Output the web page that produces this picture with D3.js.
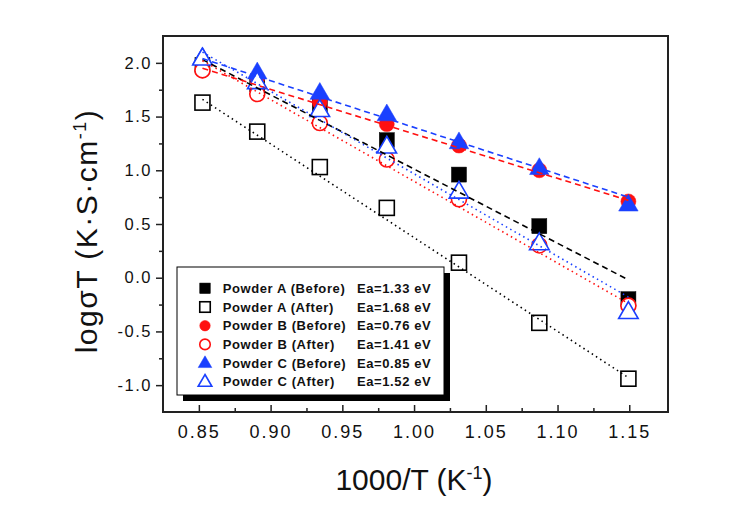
<!DOCTYPE html>
<html><head><meta charset="utf-8">
<script src="https://cdn.jsdelivr.net/npm/d3@7"></script>
<style>
body{margin:0;background:#fff}
text{font-family:"Liberation Sans",Arial,sans-serif;fill:#111}
</style></head>
<body><svg id="c" width="729" height="509"></svg>
<script>
// ---- data ----
const invT = [0.8525, 0.8907, 0.9343, 0.9810, 1.0313, 1.0873, 1.1494];
const aBefore = [1.98, 1.80, 1.60, 1.28, 0.96, 0.48, -0.20];
const aAfter  = [1.63, 1.36, 1.03, 0.65, 0.14, -0.42, -0.94];
const bBefore = [1.93, 1.86, 1.63, 1.43, 1.23, 1.00, 0.71];
const bAfter  = [1.93, 1.71, 1.44, 1.10, 0.73, 0.30, -0.26];
const cBefore = [2.05, 1.91, 1.72, 1.52, 1.26, 1.02, 0.68];
const cAfter  = [2.04, 1.82, 1.56, 1.22, 0.80, 0.32, -0.32];
// fitted lines: values at first and last 1000/T
const fitAB = [2.03, -0.02];
const fitAA = [1.66, -0.93];
const fitBB = [1.95, 0.72];
const fitBA = [2.02, -0.24];
const fitCB = [2.04, 0.75];
const fitCA = [2.10, -0.18];
const seriesNames = ["Powder A (Before)","Powder A (After)","Powder B (Before)","Powder B (After)","Powder C (Before)","Powder C (After)"];
const eaLabels = ["Ea=1.33 eV","Ea=1.68 eV","Ea=0.76 eV","Ea=1.41 eV","Ea=0.85 eV","Ea=1.52 eV"];
const xTicks = [0.85,0.90,0.95,1.00,1.05,1.10,1.15];
const xMinor = [0.875,0.925,0.975,1.025,1.075,1.125];
const yTicks = [-1.0,-0.5,0.0,0.5,1.0,1.5,2.0];
const yMinor = [-0.75,-0.25,0.25,0.75,1.25,1.75];

const RED="#ff1010", BLUE="#1a40ff", BLK="#000";
const series = [
  {vals:aBefore, fit:fitAB, shape:"square", color:BLK, filled:true,  dash:"6,4"},
  {vals:aAfter,  fit:fitAA, shape:"square", color:BLK, filled:false, dash:"1.5,3.5"},
  {vals:bBefore, fit:fitBB, shape:"circle", color:RED, filled:true,  dash:"6,4"},
  {vals:bAfter,  fit:fitBA, shape:"circle", color:RED, filled:false, dash:"1.5,3.5"},
  {vals:cBefore, fit:fitCB, shape:"triangle", color:BLUE, filled:true, dash:"6,4"},
  {vals:cAfter,  fit:fitCA, shape:"triangle", color:BLUE, filled:false, dash:"1.5,3.5"}
];

const svg = d3.select("#c");
const L=163, R=668, T=36, B=412;
const x = d3.scaleLinear().domain([0.825,1.177]).range([L,R]);
const y = d3.scaleLinear().domain([-1.25,2.25]).range([B,T]);
const fmt = d => d3.format(".2f")(d);
const fmtY = d => d3.format(".1f")(d).replace("\u2212","-");

// axes
const gx = svg.append("g").attr("transform",`translate(0,${B})`)
  .call(d3.axisBottom(x).tickValues(xTicks).tickSize(-7).tickPadding(13).tickFormat(fmt));
const gxm = svg.append("g").attr("transform",`translate(0,${B})`)
  .call(d3.axisBottom(x).tickValues(xMinor).tickSize(-4).tickFormat(""));
const gy = svg.append("g").attr("transform",`translate(${L},0)`)
  .call(d3.axisLeft(y).tickValues(yTicks).tickSize(7).tickPadding(4).tickFormat(fmtY));
const gym = svg.append("g").attr("transform",`translate(${L},0)`)
  .call(d3.axisLeft(y).tickValues(yMinor).tickSize(4).tickFormat(""));
[gx,gxm,gy,gym].forEach(g=>{g.select(".domain").remove();g.selectAll("line").attr("stroke","#222").attr("stroke-width",1.5);});
gx.selectAll("text").style("font-size","18px").attr("letter-spacing","2px").attr("fill","#111");
gy.selectAll("text").style("font-size","16.5px").attr("letter-spacing","1.5px").attr("fill","#111");

// frame
svg.append("rect").attr("x",L).attr("y",T).attr("width",R-L).attr("height",B-T)
  .attr("fill","none").attr("stroke","#222").attr("stroke-width",2);

// markers
function drawMarker(g, s, cx, cy, size){
  let el;
  if(s.shape==="square"){
    el = g.append("rect").attr("x",cx-size/2).attr("y",cy-size/2).attr("width",size).attr("height",size);
  } else if(s.shape==="circle"){
    el = g.append("circle").attr("cx",cx).attr("cy",cy).attr("r",size/2);
  } else {
    const w=size*1.3, h=size*1.12;
    el = g.append("path").attr("d",`M${cx},${cy-h*0.62} L${cx+w/2},${cy+h*0.38} L${cx-w/2},${cy+h*0.38} Z`);
  }
  el.attr("fill", s.filled ? s.color : "#fff").attr("stroke", s.color).attr("stroke-width", s.filled?0.5:1.6);
}
const gm = svg.append("g");
series.forEach(s=>{
  s.vals.forEach((v,i)=>drawMarker(gm, s, x(invT[i]), y(v), 15));
});

// fit lines
const line = d3.line().x(d=>x(d[0])).y(d=>y(d[1]));
series.forEach(s=>{
  const pts = [[invT[0], s.fit[0]],[invT[invT.length-1], s.fit[1]]];
  svg.append("path").attr("d",line(pts)).attr("fill","none")
    .attr("stroke",s.color).attr("stroke-width",1.6).attr("stroke-dasharray",s.dash);
});

// legend
const lg = svg.append("g");
const lx=177, ly=267, lw=267, lh=128;
lg.append("rect").attr("x",lx+6).attr("y",ly+6).attr("width",lw).attr("height",lh).attr("fill","#000");
lg.append("rect").attr("x",lx).attr("y",ly).attr("width",lw).attr("height",lh).attr("fill","#fff").attr("stroke","#000").attr("stroke-width",1);
series.forEach((s,i)=>{
  const cy = 288.3 + i*18.7;
  drawMarker(lg, s, 205, cy, 10.5);
  lg.append("text").attr("x",222.7).attr("y",cy).attr("dy","0.36em")
    .style("font-size","13px").style("font-weight","bold").attr("letter-spacing","0.6px").text(seriesNames[i]);
  lg.append("text").attr("x",357).attr("y",cy).attr("dy","0.36em")
    .style("font-size","13px").style("font-weight","bold").attr("letter-spacing","0.6px").text(eaLabels[i]);
});

// axis titles
const xt = svg.append("text").attr("x",414).attr("y",490).attr("text-anchor","middle").style("font-size","30px");
xt.append("tspan").text("1000/T (K");
xt.append("tspan").attr("dy","-11").style("font-size","18px").text("-1");
xt.append("tspan").attr("dy","11").text(")");

const yt = svg.append("text").attr("transform","translate(97,231) rotate(-90)").attr("text-anchor","middle").style("font-size","30px").attr("letter-spacing","1.5px");
yt.append("tspan").text("log\u03C3T (K\u00B7S\u00B7cm");
yt.append("tspan").attr("dy","-11").style("font-size","18px").text("-1");
yt.append("tspan").attr("dy","11").text(")");
</script></body></html>
